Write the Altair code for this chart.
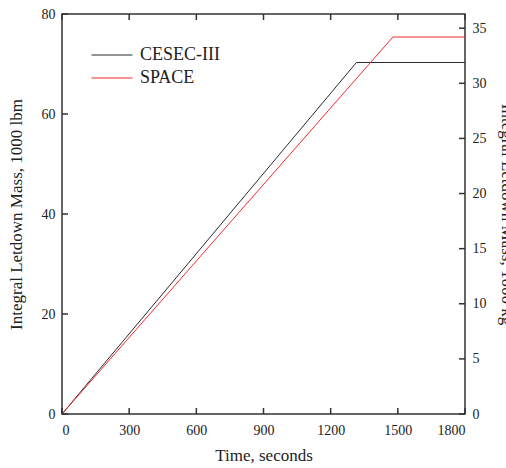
import altair as alt
import pandas as pd

# Integral letdown mass vs. time for the two codes
series_names = ["CESEC-III", "SPACE"]
series_colors = ["#2a2a2a", "#f42a2a"]

time_cesec = [0, 1315, 1800]
mass_cesec = [0, 70.3, 70.3]

time_space = [0, 1478, 1800]
mass_space = [0, 75.4, 75.4]

x_ticks = [0, 300, 600, 900, 1200, 1500, 1800]
y_ticks_lbm = [0, 20, 40, 60, 80]
y_ticks_kg = [0, 5, 10, 15, 20, 25, 30, 35]

LBM_TO_KG = 0.45359237
x_domain = [0, 1800]
y_domain_lbm = [0, 80]
y_domain_kg = [0, 80 * LBM_TO_KG]

rows = []
for name, ts, ms in [("CESEC-III", time_cesec, mass_cesec), ("SPACE", time_space, mass_space)]:
    for t, m in zip(ts, ms):
        rows.append({"series": name, "t": t, "m": m, "kg": m * LBM_TO_KG})
df = pd.DataFrame(rows)

FONT = "Liberation Serif"
TICK = 6
FRAME = "#333333"

xs = alt.Scale(domain=x_domain, nice=False, zero=False)
ys = alt.Scale(domain=y_domain_lbm, nice=False)
ys_kg = alt.Scale(domain=y_domain_kg, nice=False)

# labelled axes, shared by every layer that uses the same scale
x_axis = alt.Axis(
    orient="bottom", values=x_ticks, format="d", ticks=False, domain=False, grid=False,
    title="Time, seconds", labelPadding=9, titlePadding=10)
y_axis_lbm = alt.Axis(
    orient="left", values=y_ticks_lbm, format="d", ticks=False, domain=False, grid=False,
    title="Integral Letdown Mass, 1000 lbm", labelPadding=7, titlePadding=16)
y_axis_kg = alt.Axis(
    orient="right", values=y_ticks_kg, format="d", ticks=False, domain=False, grid=False,
    title="Integral Letdown Mass, 1000 kg", titleAngle=90,
    labelPadding=7, titlePadding=11)

# data lines
lines = alt.Chart(df).mark_line(strokeWidth=1, clip=True).encode(
    x=alt.X("t:Q", scale=xs, axis=x_axis),
    y=alt.Y("m:Q", scale=ys, axis=y_axis_lbm),
    color=alt.Color("series:N", scale=alt.Scale(domain=series_names, range=series_colors),
                    legend=alt.Legend(
                        orient="none", legendX=39, legendY=30, title=None,
                        symbolType="M-2,0H2", symbolSize=420, symbolStrokeWidth=1,
                        labelFontSize=18, labelFont=FONT, labelColor="#222",
                        labelOffset=17, rowPadding=3)),
)


def x_edge_ticks(edge_value, inward):
    # short inward rules at the x tick values on a horizontal frame edge
    tdf = pd.DataFrame({"t": x_ticks, "m": [edge_value] * len(x_ticks)})
    return alt.Chart(tdf).mark_rule(
        color=FRAME, strokeWidth=1.5, y2Offset=inward
    ).encode(
        x=alt.X("t:Q", scale=xs, axis=x_axis),
        y=alt.Y("m:Q", scale=ys, axis=y_axis_lbm),
        y2="m:Q",
    )


def y_edge_ticks(values, field, scale, axis, edge_value, inward):
    # short inward rules at the y tick values on a vertical frame edge
    tdf = pd.DataFrame({field: values, "t": [edge_value] * len(values)})
    return alt.Chart(tdf).mark_rule(
        color=FRAME, strokeWidth=1.5, x2Offset=inward
    ).encode(
        x=alt.X("t:Q", scale=xs, axis=x_axis),
        x2="t:Q",
        y=alt.Y(f"{field}:Q", scale=scale, axis=axis),
    )


lbm_layer = alt.layer(
    lines,
    x_edge_ticks(y_domain_lbm[0], -TICK),
    x_edge_ticks(y_domain_lbm[1], TICK),
    y_edge_ticks(y_ticks_lbm, "m", ys, y_axis_lbm, x_domain[0], TICK),
)

# right-hand axis in 1000 kg
kg_axis = alt.Chart(df).mark_line(opacity=0).encode(
    x=alt.X("t:Q", scale=xs, axis=x_axis),
    y=alt.Y("kg:Q", scale=ys_kg, axis=y_axis_kg),
)
kg_layer = alt.layer(
    kg_axis,
    y_edge_ticks(y_ticks_kg, "kg", ys_kg, y_axis_kg, x_domain[1], -TICK),
)

chart = alt.layer(lbm_layer, kg_layer).resolve_scale(
    y="independent"
).properties(
    width=403, height=400,
    background="white",
    autosize=alt.AutoSizeParams(type="none"),
    padding={"left": 62, "top": 14, "right": 41, "bottom": 54},
).configure_view(
    stroke=FRAME, strokeWidth=1.5
).configure_axis(
    labelFont=FONT, titleFont=FONT, labelFontSize=14, titleFontSize=17,
    labelColor="#222", titleColor="#222", titleFontWeight="normal",
)

chart.save("out.html", embed_options={"renderer": "svg", "actions": False})
